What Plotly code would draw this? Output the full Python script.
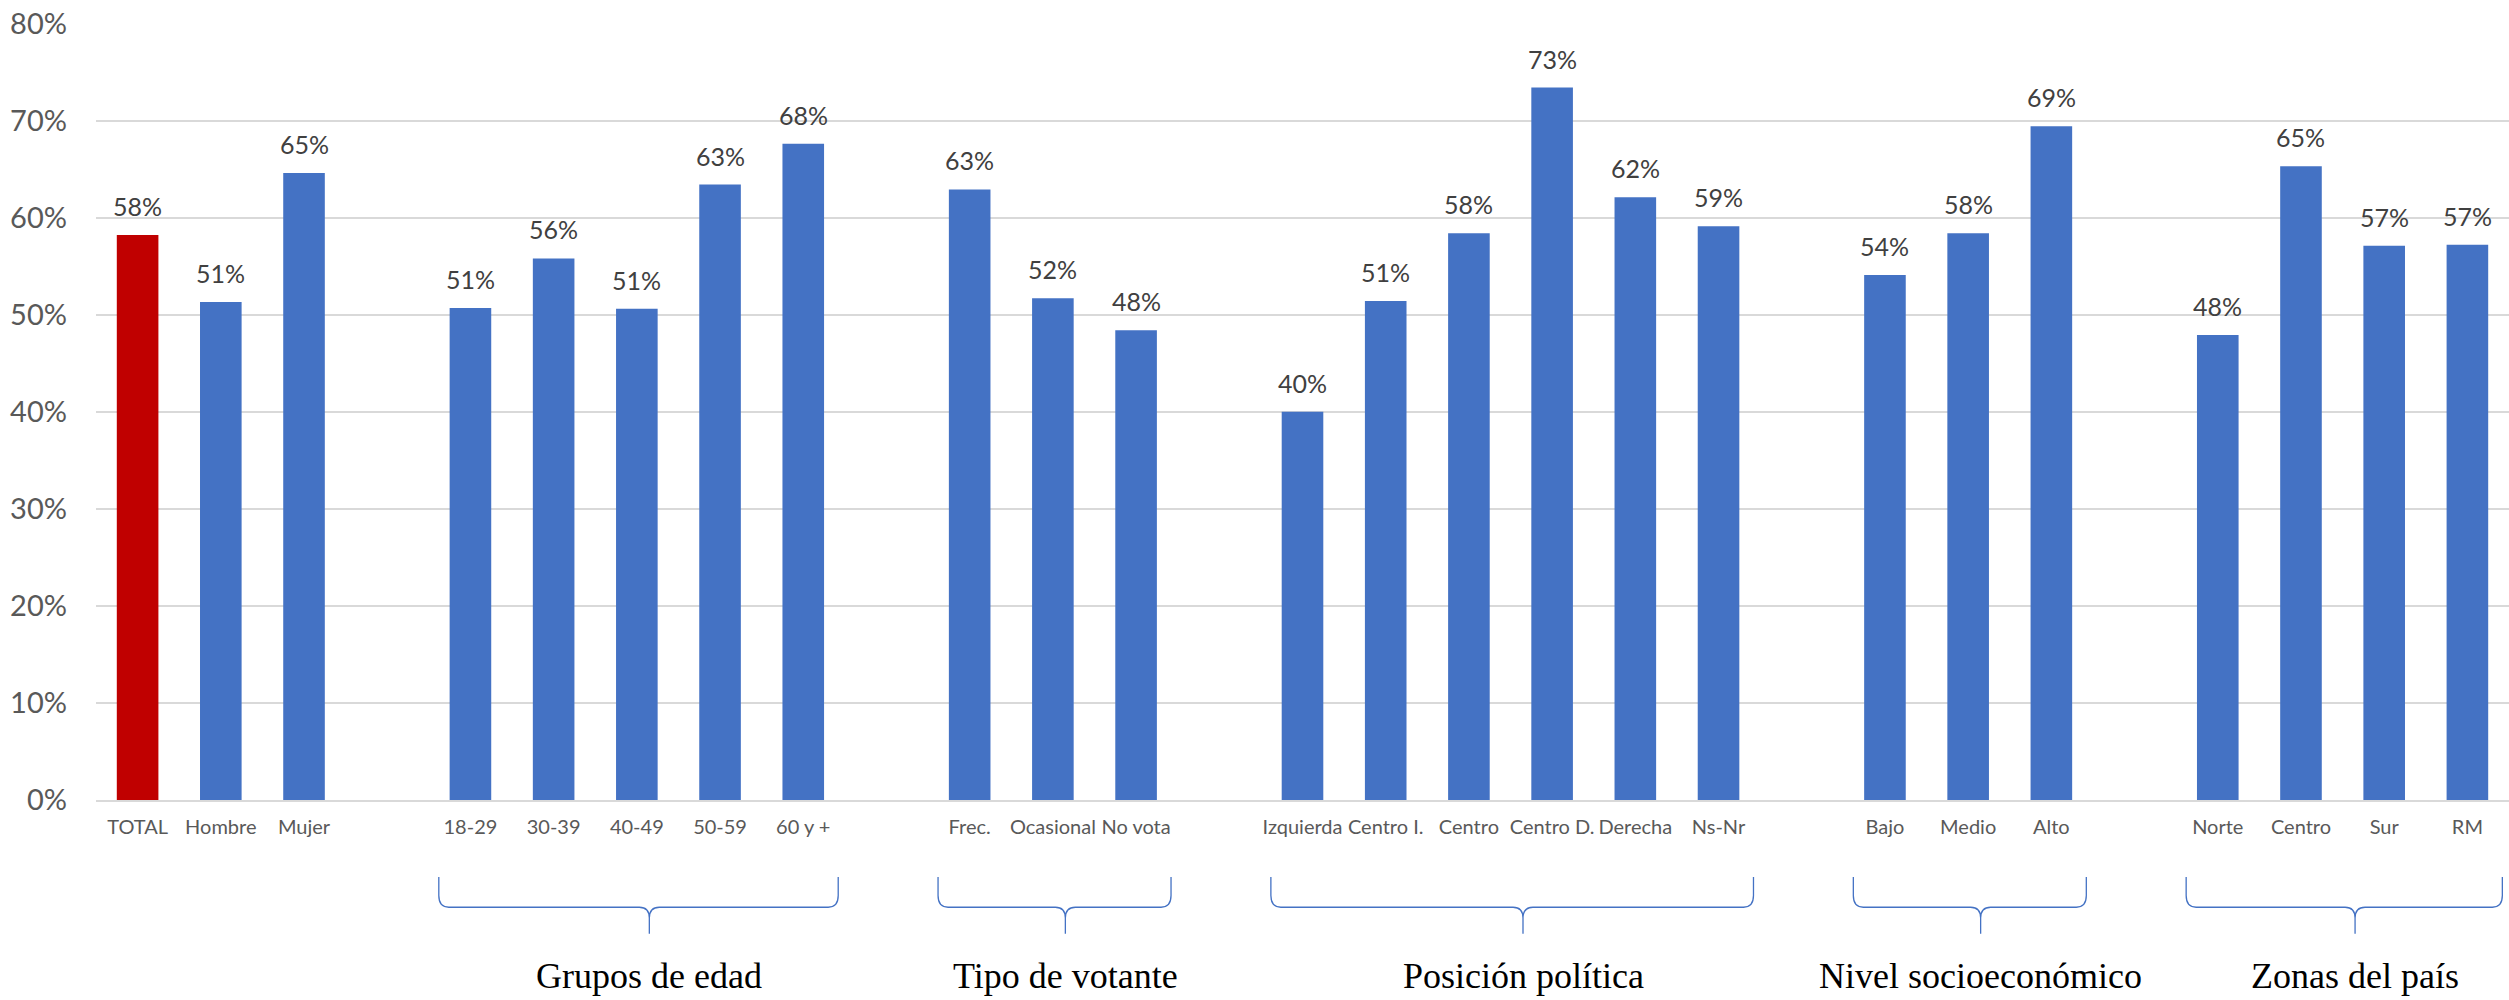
import plotly.graph_objects as go

# ---------------- data ----------------
labels_general = ["TOTAL", "Hombre", "Mujer"]
values_general = [0.582, 0.513, 0.646]

labels_edad = ["18-29", "30-39", "40-49", "50-59", "60 y +"]
values_edad = [0.507, 0.558, 0.506, 0.634, 0.676]

labels_votante = ["Frec.", "Ocasional", "No vota"]
values_votante = [0.629, 0.517, 0.484]

labels_politica = ["Izquierda", "Centro I.", "Centro", "Centro D.", "Derecha", "Ns-Nr"]
values_politica = [0.400, 0.514, 0.584, 0.734, 0.621, 0.591]

labels_nse = ["Bajo", "Medio", "Alto"]
values_nse = [0.541, 0.584, 0.694]

labels_zonas = ["Norte", "Centro", "Sur", "RM"]
values_zonas = [0.479, 0.653, 0.571, 0.572]

y_ticks = [0, 0.1, 0.2, 0.3, 0.4, 0.5, 0.6, 0.7, 0.8]
y_ticklabels = ["0%", "10%", "20%", "30%", "40%", "50%", "60%", "70%", "80%"]

group_titles = ["", "Grupos de edad", "Tipo de votante", "Posición política",
                "Nivel socioeconómico", "Zonas del país"]

groups = [
    (labels_general, values_general),
    (labels_edad, values_edad),
    (labels_votante, values_votante),
    (labels_politica, values_politica),
    (labels_nse, values_nse),
    (labels_zonas, values_zonas),
]

# ---------------- build positions ----------------
xs, ys, texts, colors = [], [], [], []
group_spans = []
pos = 0
for gi, (labs, vals) in enumerate(groups):
    start = pos
    for lab, v in zip(labs, vals):
        xs.append(pos)
        ys.append(v)
        texts.append(lab)
        colors.append("#C00000" if lab == "TOTAL" else "#4472C4")
        pos += 1
    group_spans.append((start, pos - 1))
    pos += 1  # gap slot
last_x = xs[-1]

fig = go.Figure()
fig.add_trace(go.Bar(
    x=xs, y=ys,
    marker=dict(color=colors, line=dict(width=0)),
    hoverinfo="skip",
))

annotations = []
# value labels above bars
for x, y in zip(xs, ys):
    annotations.append(dict(x=x, y=y, xref="x", yref="y",
                            text=f"{round(y * 100):.0f}%", showarrow=False,
                            xanchor="center", yanchor="bottom", yshift=12,
                            font=dict(family="Lato", size=25, color="#404040")))

# ---------------- braces + group titles ----------------
y_top, y_a, y_h, y_b, y_tip = -0.099, -0.123, -0.138, -0.152, -0.172
pad_l, pad_r, tip_shift = 0.38, 0.42, 0.15
r = 0.12
shapes = []
for gi, (s, e) in enumerate(group_spans):
    if not group_titles[gi]:
        continue
    xl, xr = s - pad_l, e + pad_r
    xc = (s + e) / 2 + tip_shift
    path = (f"M {xl},{y_top} L {xl},{y_a} Q {xl},{y_h} {xl + r},{y_h} "
            f"L {xc - r},{y_h} Q {xc},{y_h} {xc},{y_b} L {xc},{y_tip} "
            f"M {xc},{y_b} Q {xc},{y_h} {xc + r},{y_h} "
            f"L {xr - r},{y_h} Q {xr},{y_h} {xr},{y_a} L {xr},{y_top}")
    shapes.append(dict(type="path", path=path, xref="x", yref="paper",
                       line=dict(color="#4472C4", width=1.3)))
    annotations.append(dict(x=xc, y=-0.226, xref="x", yref="paper",
                            text=group_titles[gi], showarrow=False,
                            xanchor="center", yanchor="middle",
                            font=dict(family="Liberation Serif", size=36, color="#000000")))

fig.update_layout(
    width=2509, height=1000,
    margin=dict(l=96, r=0, t=23, b=200, autoexpand=False),
    plot_bgcolor="white", paper_bgcolor="white",
    bargap=0.5,
    showlegend=False,
    shapes=shapes,
    annotations=annotations,
    font=dict(family="Lato", color="#595959"),
)
fig.update_xaxes(
    range=[-0.5, last_x + 0.5], automargin=False,
    tickmode="array", tickvals=xs, ticktext=texts, tickangle=0,
    tickfont=dict(family="Lato", size=20, color="#595959"),
    showgrid=False, zeroline=False,
    showline=True, linecolor="#d9d9d9", linewidth=2,
    ticks="", ticklabelstandoff=8,
)
fig.update_yaxes(
    range=[0, 0.8005], automargin=False,
    tickmode="array", tickvals=y_ticks, ticktext=y_ticklabels,
    tickfont=dict(family="Lato", size=29, color="#595959"),
    showgrid=True, gridcolor="#d9d9d9", gridwidth=2,
    zeroline=False, showline=False, ticks="",
    ticklabelstandoff=28, ticklabeloverflow="allow",
)

fig.write_html(
    "out.html",
    config={"displayModeBar": False},
    post_script="document.body.style.margin='0';document.body.style.overflow='hidden';",
)
